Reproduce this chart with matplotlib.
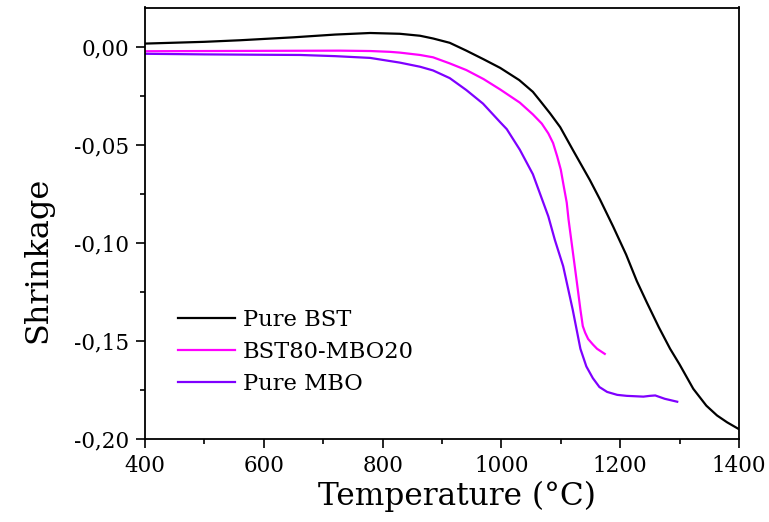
import matplotlib
matplotlib.use("Agg")
import matplotlib.pyplot as plt
from matplotlib.ticker import FuncFormatter, MultipleLocator

# Data
bst_T = [400, 500, 560, 650, 720, 779, 829, 863, 885, 913, 941, 970, 998, 1030,
         1053, 1065, 1082, 1099, 1110, 1121, 1149, 1166, 1188, 1210, 1228, 1245,
         1265, 1284, 1300, 1323, 1345, 1363, 1380, 1400]
bst_y = [0.0016, 0.0025, 0.0033, 0.0048, 0.0062, 0.0070, 0.0066, 0.0056, 0.0042,
         0.0020, -0.0020, -0.0064, -0.0108, -0.0170, -0.0230, -0.0275, -0.0340,
         -0.0410, -0.0470, -0.0530, -0.0680, -0.0779, -0.0916, -0.1060, -0.1195,
         -0.1305, -0.1430, -0.1540, -0.1620, -0.1744, -0.1830, -0.1880, -0.1915,
         -0.1950]

mix_T = [400, 500, 600, 728, 780, 812, 829, 863, 885, 913, 941, 970, 998, 1031,
         1053, 1068, 1079, 1087, 1094, 1100, 1105, 1110, 1113, 1120, 1127, 1133,
         1137, 1141, 1146, 1154, 1161, 1174]
mix_y = [-0.0023, -0.0022, -0.0021, -0.0020, -0.0022, -0.0026, -0.0030, -0.0042,
         -0.0054, -0.0085, -0.0119, -0.0165, -0.0218, -0.0285, -0.0345, -0.0392,
         -0.0442, -0.0491, -0.0560, -0.0627, -0.0712, -0.0795, -0.0880, -0.1040,
         -0.1200, -0.1340, -0.1424, -0.1458, -0.1490, -0.1518, -0.1540, -0.1566]

mbo_T = [400, 500, 600, 661, 720, 779, 829, 863, 885, 913, 941, 969, 998, 1009,
         1031, 1053, 1079, 1090, 1104, 1120, 1133, 1143, 1154, 1165, 1178, 1195,
         1211, 1239, 1250, 1259, 1275, 1296]
mbo_y = [-0.0036, -0.0039, -0.0041, -0.0042, -0.0048, -0.0057, -0.0081, -0.0102,
         -0.0121, -0.0160, -0.0221, -0.0290, -0.0385, -0.0420, -0.0525, -0.0650,
         -0.0865, -0.0985, -0.1119, -0.1340, -0.1540, -0.1630, -0.1690, -0.1735,
         -0.1760, -0.1775, -0.1780, -0.1784, -0.1780, -0.1778, -0.1795, -0.1810]

labels = ["Pure BST", "BST80-MBO20", "Pure MBO"]
colors = ["#000000", "#FF00FF", "#7F00FF"]

plt.rcParams['font.family'] = ['DejaVu Serif']

fig = plt.figure(figsize=(7.69, 5.22), dpi=100)
ax = fig.add_axes([145/769, 1-439/522, (739-145)/769, (439-7.5)/522])

for T, y, lab, c in zip([bst_T, mix_T, mbo_T], [bst_y, mix_y, mbo_y], labels, colors):
    ax.plot(T, y, color=c, lw=1.6, label=lab)

ax.set_xlim(400, 1400)
ax.set_ylim(-0.20, 0.02)
ax.xaxis.set_major_locator(MultipleLocator(200))
ax.xaxis.set_minor_locator(MultipleLocator(100))
ax.yaxis.set_major_locator(MultipleLocator(0.05))
ax.yaxis.set_minor_locator(MultipleLocator(0.025))
ax.yaxis.set_major_formatter(FuncFormatter(
    lambda v, p: "0,00" if abs(v) < 1e-9 else f"{v:.2f}".replace('.', ',')))
ax.tick_params(which='major', direction='out', length=6.5, width=1.2, labelsize=15.5, pad=5)
ax.tick_params(which='minor', direction='out', length=3.8, width=1.2)
for s in ax.spines.values():
    s.set_linewidth(1.3)

ax.set_xlabel("Temperature (°C)", fontsize=22.5, labelpad=3, x=0.526)
ax.set_ylabel("Shrinkage", fontsize=23, labelpad=15, y=0.415)

ax.legend(loc='upper left', bbox_to_anchor=(0.040, 0.322), frameon=False,
          fontsize=16.3, handlelength=2.52, handletextpad=0.36, labelspacing=0.43,
          borderaxespad=0)

fig.savefig("out.png", dpi=100)
